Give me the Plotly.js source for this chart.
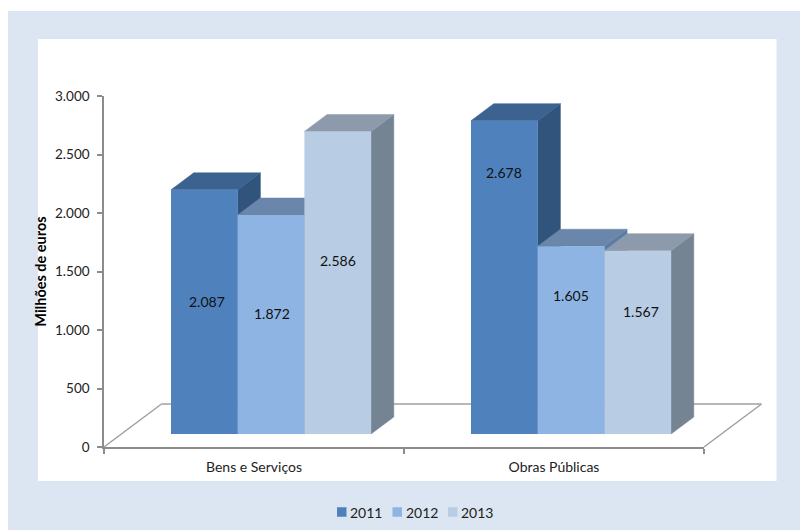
<!DOCTYPE html>
<html>
<head>
<meta charset="utf-8">
<script src="https://cdn.plot.ly/plotly-3.0.1.min.js"></script>
<style>html,body{margin:0;padding:0;background:#fff}#chart{width:800px;height:530px}</style>
</head>
<body>
<div id="chart"></div>
<script>
// ---- data ----
const categories = ['Bens e Serviços', 'Obras Públicas'];
const seriesNames = ['2011', '2012', '2013'];
const values2011 = [2087, 2678];
const values2012 = [1872, 1605];
const values2013 = [2586, 1567];
const yTickValues = [0, 500, 1000, 1500, 2000, 2500, 3000];
const yAxisTitle = 'Milhões de euros';

// ---- styling and geometry ----
const W = 800, H = 530;
const plot = {l: 104, r: 704, t: 96, b: 447};
const pxPerCat = (plot.r - plot.l) / 2;
const pxPerVal = (plot.b - plot.t) / 3000;
const axisColor = '#8c8c8c';
const textColor = '#222222';
const fontFamily = 'Lato, "Open Sans", sans-serif';
const frontColors = ['#4F81BD', '#8DB4E2', '#B8CCE4'];
const topColors = ['#3C628F', '#6A86AB', '#8C9AAC'];
const sideColors = ['#31547C', '#5A7CA3', '#748492'];
const allValues = [values2011, values2012, values2013];

const barWidth = 66.7 / pxPerCat;          // width of one bar, in categories
const firstOffset = (171 - (plot.l + pxPerCat / 2)) / pxPerCat; // left of first bar from category centre
const liftVal = 13 / pxPerVal;             // bars stand on the floor, above the axis
const depthX = 22.7 / pxPerCat, depthY = 17 / pxPerVal;
const floorDx = 57.5, floorDy = 43;        // px
// manual label placement of the reference, relative to the bar's centre (px)
const labelDx = [[3, 1, 0], [0, 0, 3]];
const labelFromTop = [[112, 99, 129], [52, 49, 61]];
const legendStartX = 337, legendStep = 55.5, legendSwatch = 9.5, legendY = 512;

const xMin = -0.5, xMax = 1.5;
const traces = [];
// tops and sides of the bars, back faces first
allValues.forEach((vals, s) => {
  const sideX = [], sideY = [], topX = [], topY = [];
  vals.forEach((v, c) => {
    const left = c + firstOffset + s * barWidth, right = left + barWidth;
    const top = liftVal + v;
    sideX.push(right, right + depthX, right + depthX, right, right, null);
    sideY.push(liftVal, liftVal + depthY, top + depthY, top, liftVal, null);
    topX.push(left, right, right + depthX, left + depthX, left, null);
    topY.push(top, top, top + depthY, top + depthY, top, null);
  });
  [[sideX, sideY, sideColors[s]], [topX, topY, topColors[s]]].forEach(([x, y, col]) => {
    traces.push({
      type: 'scatter', mode: 'lines', xaxis: 'x2', yaxis: 'y2', cliponaxis: false,
      x, y, fill: 'toself', fillcolor: col, line: {color: col, width: 0.5},
      hoverinfo: 'skip', showlegend: false
    });
  });
});
// front faces, on the overlay axes
allValues.forEach((vals, s) => {
  traces.push({
    type: 'bar', name: seriesNames[s], x: categories, y: vals,
    base: liftVal, width: barWidth, offset: firstOffset + s * barWidth,
    marker: {color: frontColors[s], line: {width: 0}},
    xaxis: 'x', yaxis: 'y', cliponaxis: false, showlegend: false
  });
});

const fmt = v => String(v).replace(/(\d)(\d{3})$/, '$1.$2');
const annotations = [];
allValues.forEach((vals, s) => vals.forEach((v, c) => {
  annotations.push({
    xref: 'x', yref: 'y', showarrow: false,
    x: c + firstOffset + (s + 0.5) * barWidth + labelDx[c][s] / pxPerCat,
    y: liftVal + v - labelFromTop[c][s] / pxPerVal,
    text: fmt(v), font: {family: fontFamily, size: 14, color: '#111111'}
  });
}));
const pxX = x => (x - plot.l) / (plot.r - plot.l);
const pxY = y => (plot.b - y) / (plot.b - plot.t);
const rect = (x0, y0, x1, y1, col) => ({
  type: 'rect', xref: 'paper', yref: 'paper', layer: 'below',
  x0: pxX(x0), x1: pxX(x1), y0: pxY(y0), y1: pxY(y1), fillcolor: col, line: {width: 0}
});
const floorLine = (x0, y0, x1, y1) => ({
  type: 'line', xref: 'paper', yref: 'paper', layer: 'below',
  x0: pxX(x0), x1: pxX(x1), y0: pxY(y0), y1: pxY(y1), line: {color: '#a0a0a0', width: 1.5}
});
const shapes = [
  rect(8, 11, 801, 531, '#DCE6F2'),
  rect(38, 39, 776.5, 481, '#ffffff'),
  floorLine(plot.l, plot.b, plot.l + floorDx, plot.b - floorDy),
  floorLine(plot.l + floorDx, plot.b - floorDy, plot.r + floorDx, plot.b - floorDy),
  floorLine(plot.r, plot.b, plot.r + floorDx, plot.b - floorDy)
];
// legend
seriesNames.forEach((name, s) => {
  const x = legendStartX + s * legendStep;
  shapes.push(rect(x, legendY - legendSwatch / 2, x + legendSwatch, legendY + legendSwatch / 2, frontColors[s]));
  annotations.push({
    xref: 'paper', yref: 'paper', x: pxX(x + 12), y: pxY(legendY), xanchor: 'left', yanchor: 'middle',
    showarrow: false, text: name, borderpad: 0,
    font: {family: fontFamily, size: 14, color: textColor}
  });
});

const layout = {
  width: W, height: H,
  margin: {l: plot.l, r: W - plot.r, t: plot.t, b: H - plot.b, pad: 0},
  paper_bgcolor: '#ffffff', plot_bgcolor: 'rgba(0,0,0,0)',
  separators: ',.',
  barmode: 'group',
  font: {family: fontFamily, size: 13.5, color: textColor},
  showlegend: false,
  xaxis: {
    type: 'category', overlaying: 'x2', anchor: 'y', categoryorder: 'array', categoryarray: categories,
    range: [xMin, xMax], tickson: 'boundaries', ticks: 'outside', ticklen: 5, tickwidth: 1.5,
    tickcolor: axisColor, showline: true, linecolor: axisColor, linewidth: 1.5,
    showgrid: false, zeroline: false, fixedrange: true, ticklabelstandoff: 6,
    tickfont: {size: 14}
  },
  yaxis: {
    overlaying: 'y2', anchor: 'x', range: [0, 3000], tickvals: yTickValues, tickformat: ',d',
    ticks: 'outside', ticklen: 5, tickwidth: 1.5, tickcolor: axisColor,
    showline: true, linecolor: axisColor, linewidth: 1.5,
    showgrid: false, zeroline: false, fixedrange: true, ticklabelstandoff: 5,
    title: {text: '<b>' + yAxisTitle + '</b>', font: {size: 14.5, color: '#000000'}, standoff: 5}
  },
  xaxis2: {range: [xMin, xMax], visible: false, fixedrange: true, anchor: 'y2'},
  yaxis2: {range: [0, 3000], visible: false, fixedrange: true, anchor: 'x2'},
  shapes,
  annotations
};
Plotly.newPlot('chart', traces, layout, {displayModeBar: false, responsive: false});
</script>
</body>
</html>
